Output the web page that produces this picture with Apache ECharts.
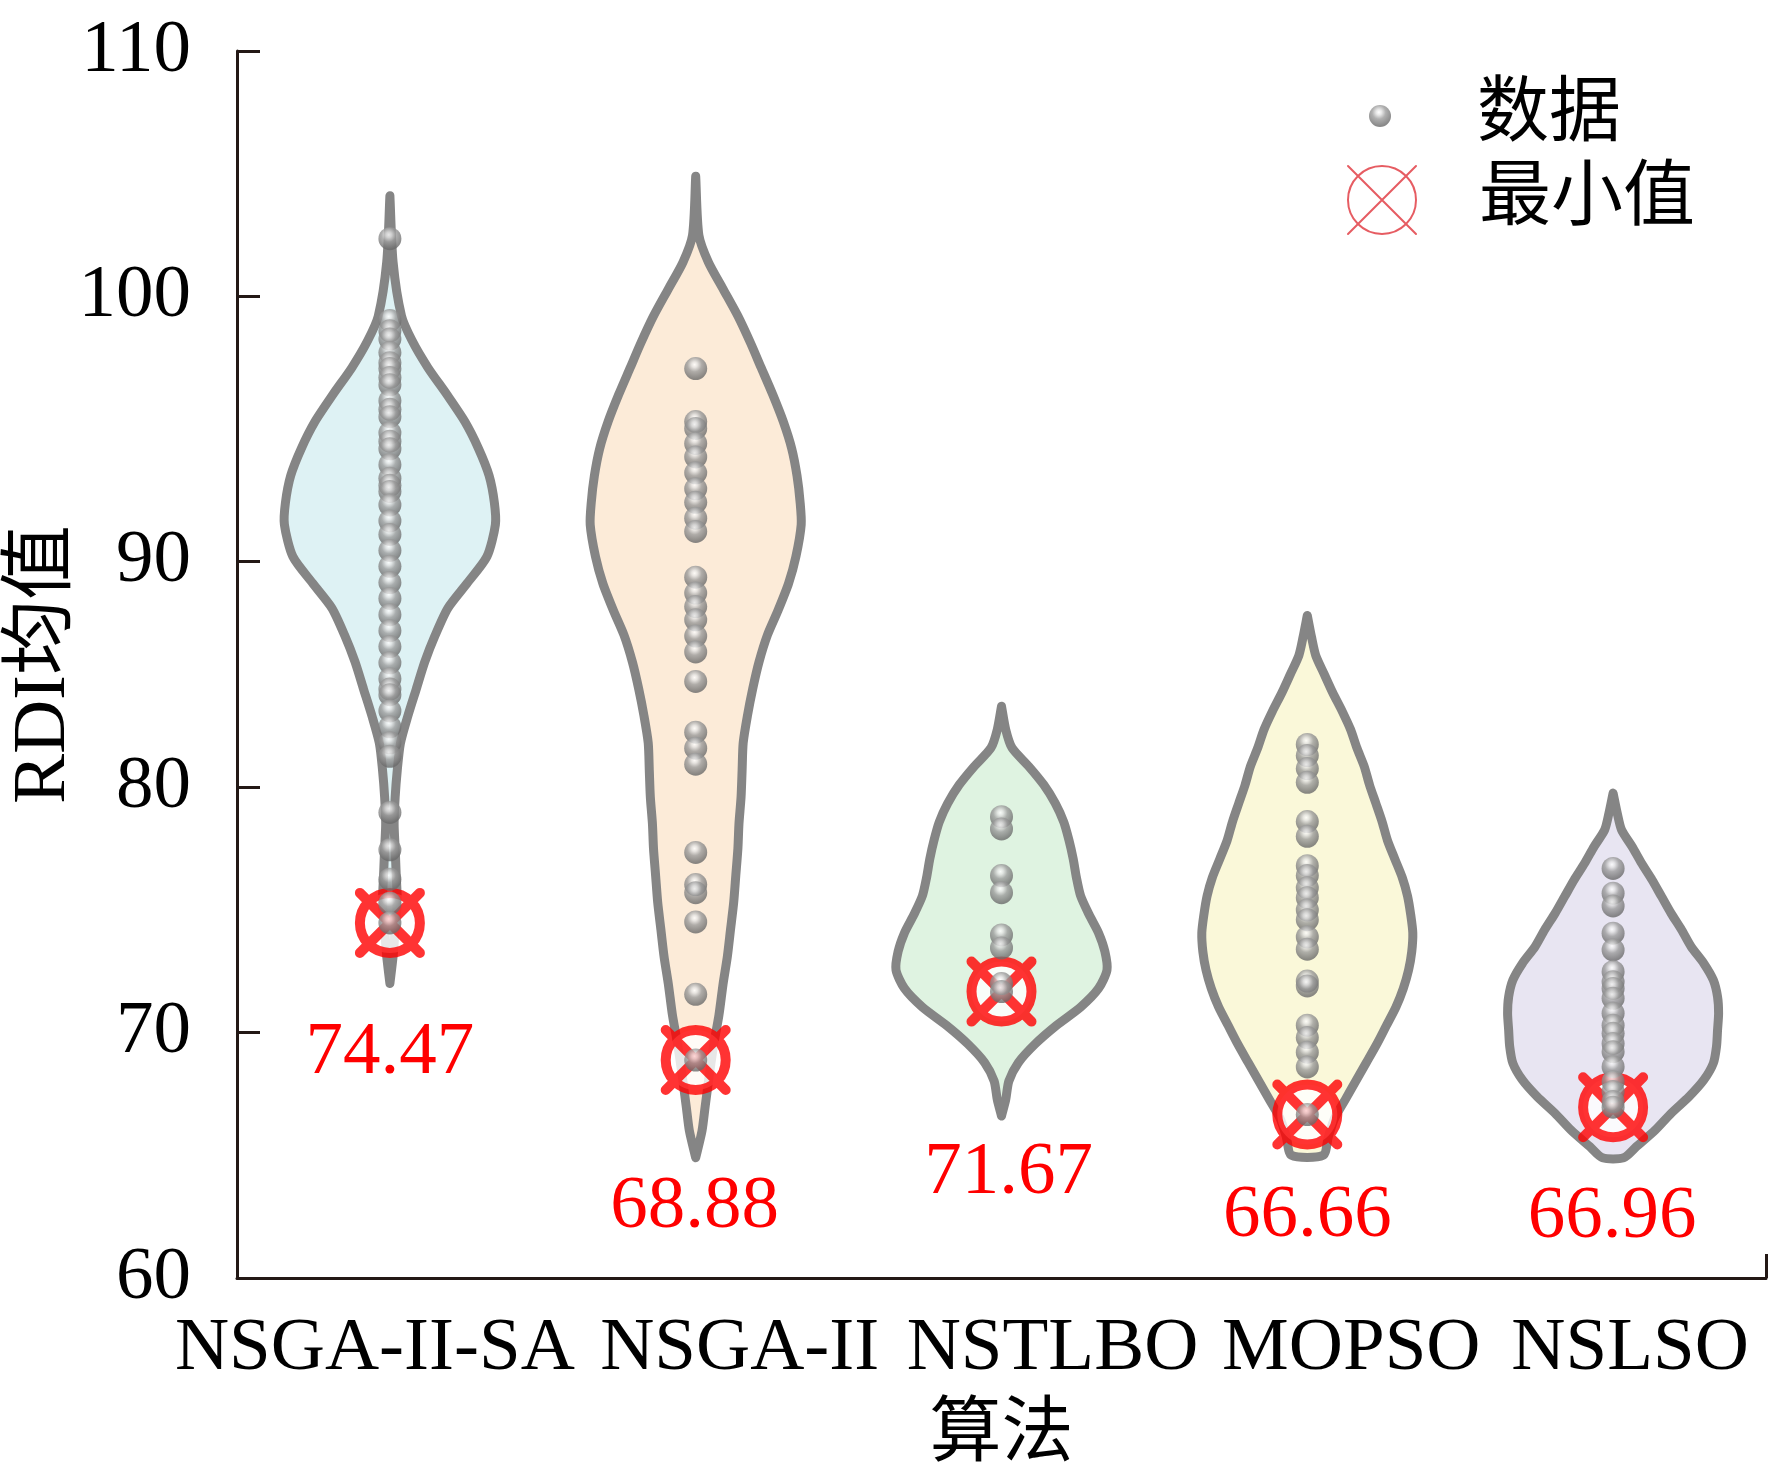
<!DOCTYPE html>
<html>
<head>
<meta charset="utf-8">
<script src="https://cdn.jsdelivr.net/npm/echarts@6/dist/echarts.min.js"></script>
<style>
  html, body { margin: 0; padding: 0; background: #fff; }
  #main { width: 1773px; height: 1475px; }
</style>
</head>
<body>
<div id="main"></div>
<script>
// categories and axis range
const categories = ['NSGA-II-SA', 'NSGA-II', 'NSTLBO', 'MOPSO', 'NSLSO'];
const yMin = 60;
const yMax = 110;
// tick marks as placed in the figure (the 90 tick sits slightly low there)
const yTickValues = [60, 70, 80, 89.2, 100, 110];
const yTickLabels = ['60', '70', '80', '90', '100', '110'];

// minimum of each algorithm
const minValues = [74.47, 68.88, 71.67, 66.66, 66.96];

// individual runs
const dotsSA = [102.35, 99.02, 98.6, 98.26, 97.71, 97.3, 97.06, 96.7, 96.4, 95.75, 95.4, 95.1,
  94.44, 94.1, 93.79, 93.14, 92.59, 92.3, 92.05, 91.5, 90.85, 90.3, 89.65, 89.0, 88.34, 87.69,
  87.03, 86.38, 85.73, 85.07, 84.42, 84.0, 83.77, 83.11, 82.46, 81.81, 81.26, 78.97, 77.45,
  76.25, 75.27, 74.47];
const dotsNSGA = [97.06, 94.9, 94.62, 94.01, 93.46, 92.81, 92.16, 91.61, 90.96, 90.42, 88.56,
  87.91, 87.36, 86.82, 86.16, 85.51, 84.31, 82.24, 81.59, 80.94, 77.34, 76.03, 75.7, 74.51,
  71.56, 68.88];
const dotsTLBO = [78.8, 78.3, 76.4, 75.7, 73.98, 73.45, 72.0, 71.67];
const dotsMOPSO = [81.74, 81.29, 80.76, 80.2, 78.6, 78.0, 76.8, 76.4, 75.9, 75.5, 75.0, 74.6,
  73.9, 73.4, 72.1, 71.9, 70.3, 69.8, 69.2, 68.6, 66.66];
const dotsNSLSO = [76.69, 75.68, 75.16, 74.05, 73.37, 72.48, 72.07, 71.8, 71.4, 70.79, 70.3,
  69.97, 69.56, 69.22, 68.61, 68.0, 67.6, 67.19, 66.96];

// violin outlines: [value, relative density width]
const violinSA = [[104.1, 0], [101.4, 0.03], [99.2, 0.11], [98.2, 0.21], [97.1, 0.36], [96.0, 0.54],
  [94.9, 0.71], [93.8, 0.84], [92.7, 0.94], [91.6, 0.99], [90.7, 1.0], [89.4, 0.92], [88.3, 0.73],
  [87.3, 0.55], [86.2, 0.43], [85.1, 0.33], [84.0, 0.25], [82.9, 0.17], [81.8, 0.10], [80.7, 0.07],
  [79.6, 0.05], [78.5, 0.04], [77.5, 0.05], [76.4, 0.06], [75.3, 0.07], [74.2, 0.05], [73.1, 0.03],
  [72.0, 0]];
const violinNSGA = [[104.9, 0], [102.5, 0.03], [101.4, 0.12], [100.3, 0.26], [99.2, 0.40], [98.1, 0.52],
  [97.1, 0.62], [96.0, 0.73], [94.9, 0.83], [93.8, 0.91], [92.7, 0.96], [91.6, 0.99], [90.7, 1.0],
  [89.4, 0.95], [88.3, 0.88], [87.2, 0.78], [86.2, 0.68], [85.1, 0.60], [84.0, 0.54], [82.9, 0.49],
  [81.8, 0.45], [80.7, 0.44], [79.6, 0.43], [78.5, 0.41], [77.5, 0.40], [76.4, 0.38], [75.3, 0.36],
  [74.2, 0.33], [73.1, 0.30], [72.0, 0.26], [70.7, 0.22], [69.5, 0.17], [68.3, 0.13], [67.0, 0.09],
  [66.0, 0.06], [64.9, 0]];
const violinTLBO = [[83.3, 0], [82.35, 0.04], [81.6, 0.10], [80.84, 0.26], [80.1, 0.40], [79.34, 0.51],
  [78.58, 0.59], [77.83, 0.64], [77.07, 0.68], [76.32, 0.71], [75.57, 0.75], [74.81, 0.83],
  [74.06, 0.92], [73.3, 0.98], [72.55, 1.0], [71.8, 0.92], [71.04, 0.75], [70.29, 0.52],
  [69.54, 0.32], [68.78, 0.16], [68.03, 0.07], [67.27, 0.04], [66.6, 0]];
const violinMOPSO = [[87.0, 0], [86.12, 0.04], [85.37, 0.08], [84.61, 0.16], [83.86, 0.24], [83.1, 0.33],
  [82.35, 0.41], [81.6, 0.47], [80.84, 0.54], [80.09, 0.59], [79.34, 0.65], [78.58, 0.71],
  [77.83, 0.76], [77.07, 0.83], [76.32, 0.90], [75.57, 0.95], [74.81, 0.98], [74.06, 1.0],
  [73.3, 0.99], [72.55, 0.96], [71.8, 0.91], [71.04, 0.84], [70.29, 0.75], [69.54, 0.66],
  [68.78, 0.56], [68.03, 0.46], [67.27, 0.36], [66.52, 0.26], [65.77, 0.20], [65.0, 0.15]];
const violinNSLSO = [[79.76, 0], [78.93, 0.04], [78.26, 0.08], [77.58, 0.18], [76.9, 0.27], [76.22, 0.37],
  [75.54, 0.46], [74.86, 0.55], [74.18, 0.65], [73.5, 0.74], [72.82, 0.86], [72.14, 0.95],
  [71.46, 0.99], [70.79, 1.0], [70.1, 0.99], [69.43, 0.98], [68.75, 0.95], [68.07, 0.86],
  [67.39, 0.72], [66.71, 0.55], [66.03, 0.40], [65.35, 0.22], [64.9, 0.10]];

const violins = [violinSA, violinNSGA, violinTLBO, violinMOPSO, violinNSLSO];
const dots = [dotsSA, dotsNSGA, dotsTLBO, dotsMOPSO, dotsNSLSO];

// styles / layout
const fills = ['#def2f4', '#fcebd8', '#dff3e1', '#faf8d9', '#e8e5f2'];
const serif = '"Liberation Serif", "Noto Sans CJK SC", serif';
const axisColor = '#231815';
const labelShift = [-15, 44, 51, 44, 17];
const minLabelDx = [0, -1, 7, 0, -1];
const minLabelDy = [130, 147, 182, 102, 110];
const minSymbol = 'path://M2,1C2,1.5523 1.5523,2 1,2C0.4477,2 0,1.5523 0,1C0,0.4477 0.4477,0 1,0C1.5523,0 2,0.4477 2,1Z M0,0L2,2 M2,0L0,2';

const dotData = [];
dots.forEach((list, i) => list.forEach((v) => dotData.push([i, v])));
const minData = minValues.map((v, i) => [i, v]);

const richLabels = {};
labelShift.forEach((s, i) => {
  richLabels['c' + i] = {
    fontSize: 75,
    fontFamily: serif,
    color: '#000',
    padding: s > 0 ? [0, 0, 0, 2 * s] : [0, -2 * s, 0, 0],
  };
});

// shiny grey ball
const sphere = {
  type: 'radial', x: 0.45, y: 0.33, r: 0.62,
  colorStops: [
    { offset: 0, color: '#ffffff' },
    { offset: 0.2, color: '#e2e2e2' },
    { offset: 0.5, color: '#9c9c9c' },
    { offset: 1, color: '#6c6c6c' },
  ],
};

const myChart = echarts.init(document.getElementById('main'));

const option = {
  backgroundColor: '#fff',
  animation: false,
  grid: { left: 237, right: 7, top: 51, bottom: 197, outerBoundsMode: 'none' },
  legend: [
    {
      data: ['数据'],
      left: 1364, top: 75,
      itemWidth: 184, itemHeight: 22,
      icon: 'circle',
      selectedMode: false,
      textStyle: { fontSize: 72, fontFamily: serif, color: '#000' },
    },
    {
      data: ['最小值'],
      left: 1342, top: 159,
      itemWidth: 184, itemHeight: 68,
      icon: minSymbol,
      selectedMode: false,
      itemStyle: { color: 'rgba(0,0,0,0)', borderColor: '#e0333b', borderWidth: 2 },
      textStyle: { fontSize: 72, fontFamily: serif, color: '#000' },
    },
  ],
  xAxis: [
    {
      type: 'category',
      data: categories,
      boundaryGap: true,
      name: '算法',
      nameLocation: 'middle',
      nameGap: 122,
      nameTextStyle: { fontSize: 72, fontFamily: serif, color: '#000' },
      axisLine: { lineStyle: { color: axisColor, width: 3 } },
      axisTick: { inside: true, alignWithLabel: true, length: 24, lineStyle: { color: axisColor, width: 3 } },
      axisLabel: {
        margin: 34,
        formatter: (val, idx) => '{c' + idx + '|' + val + '}',
        rich: richLabels,
      },
      splitLine: { show: false },
    },
    {
      type: 'value',
      min: 0, max: 1, interval: 1,
      position: 'bottom',
      axisLine: { show: false },
      axisLabel: { show: false },
      splitLine: { show: false },
      axisTick: { inside: true, length: 24, lineStyle: { color: axisColor, width: 3 } },
    },
  ],
  yAxis: {
    type: 'value',
    min: yMin, max: yMax,
    name: 'RDI均值',
    nameLocation: 'middle',
    nameGap: 155,
    nameMoveOverlap: false,
    nameRotate: 90,
    nameTextStyle: { fontSize: 75, fontFamily: serif, color: '#000' },
    axisLine: { show: true, lineStyle: { color: axisColor, width: 3 } },
    axisTick: {
      show: true, inside: true, length: 23,
      customValues: yTickValues,
      lineStyle: { color: axisColor, width: 3 },
    },
    axisLabel: {
      margin: 46, fontSize: 75, fontFamily: serif, color: '#000',
      customValues: yTickValues,
      formatter: (v) => yTickLabels[yTickValues.indexOf(v)],
    },
    splitLine: { show: false },
  },
  series: [
    {
      type: 'custom',
      name: 'violin',
      z: 1,
      data: categories.map((c, i) => [i]),
      encode: { x: 0 },
      renderItem: (params, api) => {
        const i = api.value(0);
        const prof = violins[i];
        const hw = api.size([1, 0])[0] * 0.345;
        const cx = api.coord([i, yMin])[0];
        const right = prof.map((p) => [cx + p[1] * hw, api.coord([i, p[0]])[1]]);
        const left = prof.slice().reverse().map((p) => [cx - p[1] * hw, api.coord([i, p[0]])[1]]);
        return {
          type: 'polygon',
          shape: { points: right.concat(left), smooth: 0.25 },
          style: { fill: fills[i], stroke: '#858585', lineWidth: 9, lineJoin: 'round' },
        };
      },
    },
    {
      type: 'scatter',
      name: '最小值',
      z: 2,
      data: minData,
      symbol: minSymbol,
      symbolSize: 60,
      itemStyle: { color: '#ffffff', borderColor: '#ff0000', borderWidth: 10, borderCap: 'round' },
    },
    {
      type: 'scatter',
      name: '数据',
      z: 3,
      data: dotData,
      symbolSize: 23,
      itemStyle: { color: sphere },
    },
    {
      type: 'custom',
      name: 'minLabel',
      z: 4,
      data: minData,
      renderItem: (params, api) => {
        const i = api.value(0);
        const pt = api.coord([i, api.value(1)]);
        return {
          type: 'text',
          x: pt[0] + minLabelDx[i],
          y: pt[1] + minLabelDy[i],
          style: {
            text: minValues[i].toFixed(2),
            fill: '#ff0000',
            fontSize: 75,
            fontFamily: serif,
            align: 'center',
            verticalAlign: 'middle',
          },
        };
      },
    },
  ],
};

myChart.setOption(option);
</script>
</body>
</html>
